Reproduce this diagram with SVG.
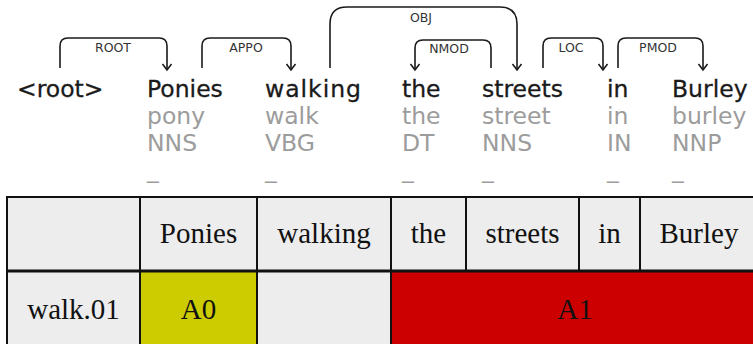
<svg xmlns="http://www.w3.org/2000/svg" width="753" height="344" viewBox="0 0 753 344">
<style>
.w{font-family:"DejaVu Sans",sans-serif;font-size:23.5px;fill:#1a1a1a;stroke:#1a1a1a;stroke-width:0.3}
.g{font-family:"DejaVu Sans",sans-serif;font-size:23.5px;fill:#9c9c9c}
.lab{font-family:"DejaVu Sans",sans-serif;font-size:12.5px;fill:#333;text-anchor:middle}
.arc{fill:none;stroke:#1a1a1a;stroke-width:1.6;marker-end:url(#ah)}
.cell{stroke:#111;stroke-width:2}
.t{font-family:"Liberation Serif","Times New Roman",serif;font-size:29px;fill:#111;text-anchor:middle}
</style>
<defs>
<marker id="ah" markerUnits="userSpaceOnUse" markerWidth="12" markerHeight="12" refX="9" refY="6" viewBox="0 0 12 12" orient="auto">
<path d="M3,1.5 L9,6 L3,10.5" fill="none" stroke="#1a1a1a" stroke-width="1.6"/>
</marker>
</defs>
<rect width="753" height="344" fill="#fff"/>
<g id="connectors">
<path class="arc" d="M60,68 V46 Q60,38 68,38 H159 Q167,38 167,46 V70"/>
<text class="lab" x="113" y="52">ROOT</text>
<path class="arc" d="M202,68 V46 Q202,38 210,38 H283 Q291,38 291,46 V70"/>
<text class="lab" x="246" y="52">APPO</text>
<path class="arc" d="M330,68 V24 Q330,7 347,7 H500 Q517,7 517,24 V70"/>
<text class="lab" x="421" y="22">OBJ</text>
<path class="arc" d="M491,68 V48 Q491,40 483,40 H423 Q415,40 415,48 V70"/>
<text class="lab" x="449" y="53">NMOD</text>
<path class="arc" d="M543,68 V46 Q543,38 551,38 H595 Q603,38 603,46 V70"/>
<text class="lab" x="571" y="52">LOC</text>
<path class="arc" d="M618,68 V46 Q618,38 626,38 H695 Q703,38 703,46 V70"/>
<text class="lab" x="658" y="52">PMOD</text>
</g>
<g id="tok-root"><text class="w" x="17" y="97">&lt;root&gt;</text></g>
<g id="tok-ponies"><text class="w" x="147" y="97">Ponies</text><text class="g" x="147" y="124">pony</text><text class="g" x="147" y="151">NNS</text><text class="g" x="147" y="178">_</text></g>
<g id="tok-walking"><text class="w" x="265" y="97" textLength="96">walking</text><text class="g" x="265" y="124">walk</text><text class="g" x="265" y="151">VBG</text><text class="g" x="265" y="178">_</text></g>
<g id="tok-the"><text class="w" x="402" y="97">the</text><text class="g" x="402" y="124">the</text><text class="g" x="402" y="151">DT</text><text class="g" x="402" y="178">_</text></g>
<g id="tok-streets"><text class="w" x="482" y="97">streets</text><text class="g" x="482" y="124">street</text><text class="g" x="482" y="151">NNS</text><text class="g" x="482" y="178">_</text></g>
<g id="tok-in"><text class="w" x="607" y="97">in</text><text class="g" x="607" y="124">in</text><text class="g" x="607" y="151">IN</text><text class="g" x="607" y="178">_</text></g>
<g id="tok-burley"><text class="w" x="672" y="97">Burley</text><text class="g" x="672" y="124">burley</text><text class="g" x="672" y="151">NNP</text><text class="g" x="672" y="178">_</text></g>
<g id="table">
<g id="header-row">
<rect class="cell" x="7" y="197" width="133" height="74" fill="#ededed"/>
<rect class="cell" x="140" y="197" width="117" height="74" fill="#ededed"/>
<rect class="cell" x="257" y="197" width="134" height="74" fill="#ededed"/>
<rect class="cell" x="391" y="197" width="75" height="74" fill="#ededed"/>
<rect class="cell" x="466" y="197" width="113" height="74" fill="#ededed"/>
<rect class="cell" x="579" y="197" width="61" height="74" fill="#ededed"/>
<rect class="cell" x="640" y="197" width="120" height="74" fill="#ededed"/>
<text class="t" x="198.5" y="243">Ponies</text>
<text class="t" x="324" y="243">walking</text>
<text class="t" x="428.5" y="243">the</text>
<text class="t" x="522.5" y="243">streets</text>
<text class="t" x="609.5" y="243">in</text>
<text class="t" x="699" y="243">Burley</text>
</g>
<g id="role-row">
<rect class="cell" x="7" y="271" width="133" height="80" fill="#ededed"/>
<rect class="cell" x="140" y="271" width="117" height="80" fill="#cccc00"/>
<rect class="cell" x="257" y="271" width="134" height="80" fill="#ededed"/>
<rect class="cell" x="391" y="271" width="369" height="80" fill="#cc0000"/>
<text class="t" x="73.5" y="319">walk.01</text>
<text class="t" x="198.5" y="319">A0</text>
<text class="t" x="575" y="319">A1</text>
</g>
<line x1="7" y1="271" x2="760" y2="271" stroke="#111" stroke-width="3"/>
</g>
</svg>
